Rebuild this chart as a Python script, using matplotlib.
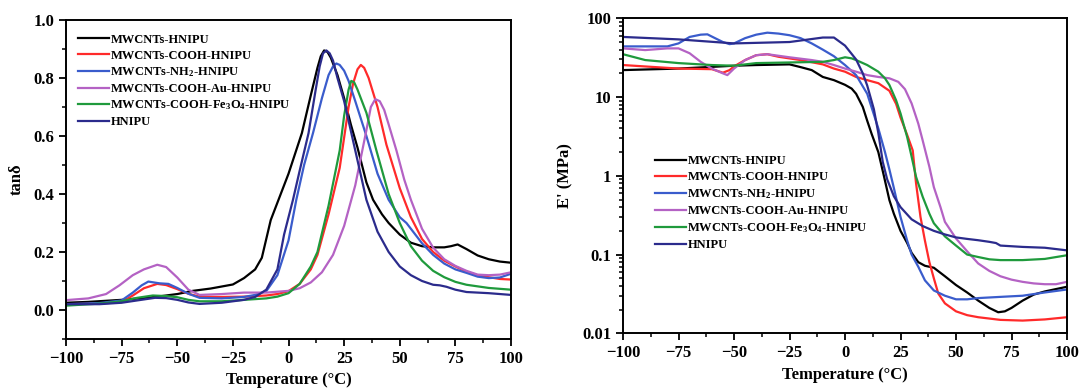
import matplotlib
matplotlib.use("Agg")
import matplotlib.pyplot as plt
from matplotlib.ticker import MultipleLocator, LogLocator, NullFormatter, FixedLocator

plt.rcParams['font.family'] = ['Liberation Serif', 'DejaVu Serif']
plt.rcParams['font.weight'] = 'bold'
plt.rcParams['mathtext.fontset'] = 'custom'
plt.rcParams['mathtext.rm'] = 'Liberation Serif:bold'
plt.rcParams['mathtext.it'] = 'Liberation Serif:bold'
plt.rcParams['mathtext.bf'] = 'Liberation Serif:bold'

labels = ["MWCNTs-HNIPU", "MWCNTs-COOH-HNIPU", "MWCNTs-NH$_2$-HNIPU",
          "MWCNTs-COOH-Au-HNIPU", "MWCNTs-COOH-Fe$_3$O$_4$-HNIPU", "HNIPU"]
colors = ["#000000", "#ff2a2a", "#3a5ccc", "#b462c4", "#1f9a3c", "#2b2b8c"]

# ---- tan delta data (temperature in °C) ----
tan_black_T = [-100, -90, -75, -60, -50, -43, -35, -25, -20, -15, -12, -8, -5, -2, 0, 3, 6, 10, 13, 14.5, 16, 17.5, 19, 22, 25, 28, 31, 35, 38, 42, 45, 50, 55, 60, 65, 70, 73, 76, 80, 85, 90, 95, 100]
tan_black_v = [0.025, 0.028, 0.035, 0.045, 0.055, 0.066, 0.074, 0.088, 0.11, 0.14, 0.18, 0.31, 0.37, 0.43, 0.47, 0.54, 0.61, 0.74, 0.835, 0.875, 0.895, 0.89, 0.87, 0.81, 0.73, 0.64, 0.56, 0.44, 0.38, 0.33, 0.3, 0.26, 0.232, 0.22, 0.216, 0.216, 0.22, 0.226, 0.21, 0.188, 0.175, 0.167, 0.163]

tan_red_T = [-100, -85, -75, -70, -65, -59, -55, -50, -45, -40, -30, -20, -10, -5, 0, 5, 10, 13, 18, 23, 27, 29, 31, 32.5, 34, 36, 38, 40, 44, 50, 55, 60, 65, 70, 75, 80, 85, 90, 95, 100]
tan_red_v = [0.02, 0.022, 0.027, 0.05, 0.075, 0.09, 0.086, 0.072, 0.056, 0.046, 0.045, 0.046, 0.05, 0.055, 0.065, 0.09, 0.14, 0.19, 0.33, 0.49, 0.7, 0.78, 0.83, 0.845, 0.835, 0.8, 0.75, 0.7, 0.57, 0.42, 0.32, 0.245, 0.2, 0.17, 0.15, 0.132, 0.12, 0.113, 0.107, 0.105]

tan_blue_T = [-100, -85, -75, -70, -66, -63, -58, -54, -50, -45, -40, -30, -20, -15, -10, -5, 0, 3.5, 7, 11, 15, 18, 20, 21.5, 23, 25, 27, 30, 35, 40, 45, 50, 53, 56, 60, 65, 70, 75, 80, 85, 90, 95, 100]
tan_blue_v = [0.02, 0.024, 0.033, 0.06, 0.085, 0.098, 0.092, 0.09, 0.076, 0.056, 0.042, 0.04, 0.045, 0.052, 0.065, 0.12, 0.24, 0.38, 0.5, 0.61, 0.73, 0.81, 0.84, 0.85, 0.845, 0.825, 0.79, 0.72, 0.6, 0.47, 0.38, 0.32, 0.3, 0.27, 0.23, 0.19, 0.16, 0.14, 0.128, 0.115, 0.11, 0.112, 0.125]

tan_purple_T = [-100, -90, -82, -76, -70, -65, -59, -55, -50, -45, -40, -30, -20, -10, 0, 5, 10, 15, 20, 25, 30, 35, 37, 39, 41, 43, 45, 48.5, 52, 55, 60, 65, 70, 75, 80, 85, 90, 95, 100]
tan_purple_v = [0.034, 0.04, 0.055, 0.085, 0.12, 0.14, 0.156, 0.148, 0.112, 0.07, 0.052, 0.055, 0.06, 0.06, 0.066, 0.075, 0.095, 0.13, 0.19, 0.29, 0.43, 0.62, 0.7, 0.727, 0.72, 0.69, 0.64, 0.55, 0.45, 0.38, 0.28, 0.215, 0.175, 0.152, 0.135, 0.122, 0.12, 0.122, 0.13]

tan_green_T = [-100, -85, -75, -68, -61, -55, -50, -45, -40, -30, -20, -10, -5, 0, 5, 10, 13, 18, 23, 25, 27, 28.2, 29.5, 31, 35, 39.5, 45, 50, 55, 60, 65, 70, 75, 80, 90, 100]
tan_green_v = [0.015, 0.022, 0.03, 0.042, 0.05, 0.048, 0.044, 0.035, 0.03, 0.03, 0.035, 0.04, 0.046, 0.058, 0.09, 0.15, 0.2, 0.36, 0.55, 0.67, 0.76, 0.79, 0.785, 0.76, 0.68, 0.55, 0.4, 0.3, 0.22, 0.17, 0.135, 0.113, 0.097, 0.087, 0.076, 0.07]

tan_navy_T = [-100, -85, -75, -68, -60, -55, -50, -45, -40, -30, -20, -15, -10, -5, -2, 2, 5, 9, 12, 14, 15.5, 17, 18.5, 20, 22, 25, 30, 35, 40, 45, 50, 55, 60, 65, 68, 71, 75, 80, 90, 100]
tan_navy_v = [0.02, 0.02, 0.025, 0.033, 0.042, 0.041, 0.035, 0.026, 0.021, 0.025, 0.035, 0.045, 0.07, 0.14, 0.26, 0.38, 0.48, 0.61, 0.75, 0.84, 0.885, 0.895, 0.885, 0.86, 0.8, 0.72, 0.55, 0.38, 0.27, 0.2, 0.15, 0.12, 0.1, 0.087, 0.085, 0.08, 0.07, 0.062, 0.058, 0.052]

# ---- storage modulus E' (MPa) ----
E_black_T = [-100, -75, -50, -40, -25, -20, -15, -10, -5, 0, 3, 5, 8, 10, 12, 15, 17.5, 20, 22, 25, 28, 30, 33, 36, 40, 45, 50, 55, 60, 65, 69, 72, 75, 80, 85, 90, 100]
E_black_v = [22, 23, 25, 25.5, 26, 24, 22, 18, 16.4, 14.3, 12.8, 11, 7.5, 5, 3.4, 2.0, 1.0, 0.49, 0.33, 0.2, 0.14, 0.105, 0.08, 0.072, 0.068, 0.053, 0.041, 0.033, 0.026, 0.021, 0.0185, 0.019, 0.021, 0.026, 0.031, 0.034, 0.039]

E_red_T = [-100, -75, -60, -55, -52, -50, -45, -40, -35, -30, -20, -10, -5, 0, 5, 10, 15, 20, 23, 25, 28, 30.5, 32, 34, 36, 38, 40, 42, 45, 50, 55, 60, 70, 80, 90, 100]
E_red_v = [25.5, 23, 22.6, 20.4, 22, 24.5, 29.5, 34, 35, 32.5, 29.5, 26, 23, 21, 18, 16.4, 15, 12, 8.2, 5.5, 3.3, 2.1, 0.8, 0.3, 0.15, 0.08, 0.05, 0.032, 0.024, 0.019, 0.017, 0.016, 0.0148, 0.0145, 0.015, 0.016]

E_blue_T = [-100, -80, -75, -70, -65, -62, -58, -55, -52, -50, -45, -40, -35, -30, -25, -20, -15, -10, -5, 0, 5, 10, 13, 15, 18, 20, 22, 25, 28, 30, 33, 36, 40, 45, 50, 55, 60, 70, 80, 90, 100]
E_blue_v = [44, 44, 48, 58, 62, 62.6, 55, 50, 47, 48, 56, 62, 65.7, 64, 61, 56, 48, 40, 33, 25.5, 19, 11, 6, 4, 2, 1.2, 0.7, 0.3, 0.15, 0.1, 0.07, 0.047, 0.035, 0.03, 0.027, 0.027, 0.028, 0.029, 0.03, 0.033, 0.036]

E_purple_T = [-100, -90, -80, -75, -70, -65, -60, -55, -53, -50, -45, -40, -35, -25, -15, -10, -5, 0, 5, 10, 15, 20, 24, 27, 30, 33, 35, 38, 40, 43, 45, 50, 55, 60, 65, 70, 75, 80, 85, 90, 95, 100]
E_purple_v = [41.5, 39.5, 41.5, 41.5, 36, 28, 23, 20, 19, 23, 29.5, 34, 35, 32, 29.5, 28, 25.5, 23, 21, 19, 18, 17.3, 15.6, 12.6, 8.3, 4.6, 2.8, 1.3, 0.72, 0.4, 0.26, 0.16, 0.11, 0.077, 0.062, 0.053, 0.048, 0.045, 0.043, 0.042, 0.042, 0.045]

E_green_T = [-100, -90, -75, -60, -50, -40, -25, -10, -5, 0, 3, 5, 10, 15, 18, 20, 23, 25, 28, 30, 32, 35, 38, 40, 45, 50, 55, 60, 65, 70, 80, 90, 100]
E_green_v = [35, 29.5, 27, 25.5, 25, 27, 27.5, 28, 29.5, 32, 31, 29.5, 25.5, 21, 17.3, 14.2, 9.1, 6.2, 3.1, 1.75, 0.97, 0.54, 0.33, 0.25, 0.17, 0.13, 0.1, 0.093, 0.087, 0.085, 0.085, 0.088, 0.098]

E_navy_T = [-100, -75, -50, -25, -10, -5, 0, 5, 8, 10, 13, 15, 17, 19, 22, 25, 30, 35, 40, 45, 50, 55, 60, 65, 68, 70, 80, 90, 100]
E_navy_v = [58, 54, 48, 50, 57, 57, 45, 30, 20, 14, 7, 3.5, 1.5, 0.9, 0.55, 0.4, 0.28, 0.23, 0.2, 0.18, 0.165, 0.158, 0.152, 0.145, 0.14, 0.13, 0.125, 0.122, 0.113]

tan_series = [(tan_black_T, tan_black_v), (tan_red_T, tan_red_v), (tan_blue_T, tan_blue_v),
              (tan_purple_T, tan_purple_v), (tan_green_T, tan_green_v), (tan_navy_T, tan_navy_v)]
E_series = [(E_black_T, E_black_v), (E_red_T, E_red_v), (E_blue_T, E_blue_v),
            (E_purple_T, E_purple_v), (E_green_T, E_green_v), (E_navy_T, E_navy_v)]

fig = plt.figure(figsize=(10.79, 3.88), dpi=100)
ax1 = fig.add_axes([0.0612, 0.1263, 0.4124, 0.8222])
ax2 = fig.add_axes([0.5774, 0.1410, 0.4115, 0.8118])

for (T, v), c, lab in zip(tan_series, colors, labels):
    ax1.plot(T, v, color=c, lw=1.6, label=lab)
for (T, v), c, lab in zip(E_series, colors, labels):
    ax2.plot(T, v, color=c, lw=1.6, label=lab)

for ax in (ax1, ax2):
    ax.set_xlim(-100, 100)
    ax.xaxis.set_major_locator(MultipleLocator(25))
    ax.xaxis.set_minor_locator(MultipleLocator(12.5))
    ax.tick_params(which='major', direction='out', length=5, width=1.3, labelsize=12, top=False, right=False)
    ax.tick_params(which='minor', direction='out', length=3, width=1.1, top=False, right=False)
    for s in ax.spines.values():
        s.set_linewidth(1.4)
    ax.set_xlabel("Temperature (°C)", fontsize=12, fontweight='bold', labelpad=4)
    for lbl in ax.get_xticklabels() + ax.get_yticklabels():
        lbl.set_fontweight('bold')

ax1.set_ylim(-0.1, 1.0)
ax1.yaxis.set_major_locator(FixedLocator([0.0, 0.2, 0.4, 0.6, 0.8, 1.0]))
ax1.yaxis.set_minor_locator(MultipleLocator(0.1))
ax1.set_yticklabels(["0.0", "0.2", "0.4", "0.6", "0.8", "1.0"], fontweight='bold')
ax1.set_ylabel("tanδ", fontsize=12, fontweight='bold', labelpad=6)

ax2.set_yscale('log')
ax2.set_ylim(0.01, 100)
ax2.yaxis.set_major_locator(FixedLocator([0.01, 0.1, 1, 10, 100]))
ax2.yaxis.set_minor_locator(LogLocator(base=10, subs=[2, 3, 4, 5, 6, 7, 8, 9]))
ax2.yaxis.set_minor_formatter(NullFormatter())
ax2.set_yticklabels(["0.01", "0.1", "1", "10", "100"], fontweight='bold')
ax2.set_ylabel("E' (MPa)", fontsize=12, fontweight='bold', labelpad=6)

leg_kw = dict(frameon=False, handlelength=2.5, handletextpad=0.1,
              prop={'family': 'Liberation Serif', 'weight': 'bold', 'size': 9})
ax1.legend(loc='upper left', bbox_to_anchor=(0.01, 0.98), borderaxespad=0.2, labelspacing=0.3, **leg_kw)
ax2.legend(loc='upper left', bbox_to_anchor=(0.055, 0.59), borderaxespad=0.2, labelspacing=0.33, **leg_kw)

fig.savefig("out.png", dpi=100)
